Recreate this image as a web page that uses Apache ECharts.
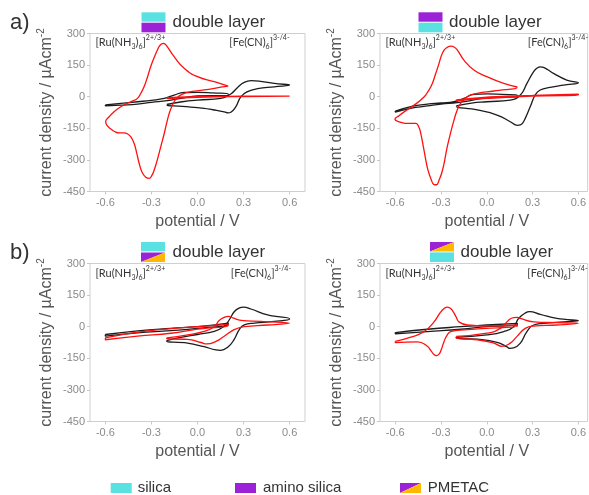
<!DOCTYPE html>
<html><head><meta charset="utf-8">
<script src="https://cdn.jsdelivr.net/npm/echarts@6/dist/echarts.min.js"></script>
<style>html,body{margin:0;padding:0;background:#fff}#c{width:589px;height:495px}</style>
</head><body><div id="c"></div>
<script>
// ---- tick labels ----
const xTickValues = [-0.6, -0.3, 0.0, 0.3, 0.6];
const yMin = -450, yMax = 300, yStep = 150;

// ---- panel a, left (silica / amino silica) ----
const a1RuBlack = [[-0.6,-39],[-0.5,-32],[-0.39,-24],[-0.3,-17],[-0.217,-8],[-0.152,8],[-0.087,20],[0,21],[0.1,18],[0.2,13],[0.2,5],[0.1,5],[0,4],[-0.109,-8],[-0.196,-19],[-0.3,-27],[-0.39,-35],[-0.5,-40],[-0.6,-44],[-0.6,-39]];
const a1FeBlack = [[-0.2,-37],[-0.1,-24],[0,-16],[0.152,-8],[0.217,13],[0.261,44],[0.304,68],[0.35,76],[0.41,73],[0.5,63],[0.6,55],[0.5,47],[0.391,38],[0.326,24],[0.283,0],[0.25,-47],[0.217,-74],[0.2,-77],[0.174,-72],[0.1,-62],[0.043,-55],[-0.1,-46],[-0.2,-40],[-0.2,-37]];
const a1RuRed = [[0.2,50],[0.109,71],[0,95],[-0.087,135],[-0.152,190],[-0.196,237],[-0.21,249],[-0.222,253],[-0.235,250],[-0.25,238],[-0.261,222],[-0.28,190],[-0.305,142],[-0.325,95],[-0.348,47],[-0.37,15],[-0.391,-8],[-0.42,-20],[-0.457,-31],[-0.5,-48],[-0.543,-71],[-0.575,-95],[-0.598,-119],[-0.585,-140],[-0.566,-152],[-0.54,-165],[-0.511,-172],[-0.48,-172],[-0.457,-176],[-0.435,-190],[-0.413,-221],[-0.395,-270],[-0.38,-316],[-0.36,-360],[-0.337,-382],[-0.315,-388],[-0.298,-375],[-0.282,-348],[-0.26,-295],[-0.239,-237],[-0.215,-170],[-0.196,-111],[-0.175,-60],[-0.152,-24],[-0.13,-3],[-0.109,8],[-0.065,21],[0.044,32],[0.152,45],[0.2,50]];
const a1FeRed = [[-0.2,-9],[0,-3],[0.3,1],[0.6,3],[0.3,3],[0,0],[-0.2,-6],[-0.2,-9]];

// ---- panel a, right (amino silica / silica) ----
const a2RuBlack = [[-0.6,-68],[-0.498,-47],[-0.39,-35],[-0.3,-30],[-0.215,-24],[-0.15,-8],[-0.085,11],[0,13],[0.1,11],[0.2,8],[0.2,0],[0.1,-2],[0,-5],[-0.107,-19],[-0.193,-28],[-0.3,-35],[-0.39,-44],[-0.5,-55],[-0.6,-73],[-0.6,-68]];
const a2FeBlack = [[-0.2,-44],[-0.1,-30],[0,-24],[0.154,-16],[0.22,8],[0.263,63],[0.307,119],[0.33,136],[0.35,142],[0.372,139],[0.4,128],[0.437,111],[0.524,79],[0.6,66],[0.502,55],[0.415,44],[0.35,32],[0.317,8],[0.285,-47],[0.252,-103],[0.235,-125],[0.22,-134],[0.2,-136],[0.187,-134],[0.154,-119],[0.067,-87],[-0.063,-63],[-0.2,-46],[-0.2,-44]];
const a2RuRed = [[0.2,46],[0.111,63],[0,95],[-0.085,127],[-0.15,174],[-0.193,221],[-0.215,236],[-0.237,240],[-0.26,234],[-0.28,221],[-0.3,190],[-0.313,158],[-0.335,110],[-0.357,63],[-0.385,25],[-0.41,0],[-0.476,-40],[-0.54,-71],[-0.575,-90],[-0.602,-107],[-0.574,-119],[-0.509,-127],[-0.465,-127],[-0.445,-145],[-0.433,-174],[-0.415,-240],[-0.4,-300],[-0.385,-350],[-0.367,-388],[-0.346,-417],[-0.33,-418],[-0.315,-400],[-0.29,-348],[-0.259,-237],[-0.235,-165],[-0.215,-111],[-0.195,-65],[-0.172,-32],[-0.128,0],[-0.063,16],[0.046,27],[0.2,44],[0.2,46]];
const a2FeRed = [[-0.2,-15],[0,-2],[0.3,6],[0.6,12],[0.6,8],[0.3,3],[0,-8],[-0.2,-20],[-0.2,-15]];

// ---- panel b, left (silica / PMETAC) ----
const b1RuBlack = [[-0.6,-37],[-0.39,-20],[-0.174,-8],[0,0],[0.2,17],[0.2,12],[0,-8],[-0.174,-19],[-0.39,-29],[-0.6,-45],[-0.6,-37]];
const b1RuRed = [[-0.6,-53],[-0.39,-26],[-0.174,-9],[0,0],[0.152,8],[0.2,11],[0.2,6],[0,-12],[-0.174,-31],[-0.39,-45],[-0.6,-62],[-0.6,-53]];
const b1FeBlack = [[-0.2,-66],[-0.1,-50],[0,-37],[0.109,-22],[0.174,2],[0.207,33],[0.239,71],[0.27,88],[0.3,93],[0.348,84],[0.457,56],[0.6,37],[0.5,25],[0.37,17],[0.304,9],[0.272,-14],[0.239,-60],[0.2,-95],[0.15,-112],[0.12,-110],[0.043,-95],[-0.065,-78],[-0.2,-70],[-0.2,-66]];
const b1FeRed = [[-0.2,-53],[-0.065,-39],[0.043,-22],[0.109,0],[0.141,29],[0.174,44],[0.2,49],[0.23,42],[0.283,30],[0.413,25],[0.6,17],[0.457,8],[0.304,0],[0.239,-14],[0.174,-45],[0.12,-70],[0.06,-82],[0.022,-75],[-0.065,-60],[-0.2,-57],[-0.2,-53]];

// ---- panel b, right (PMETAC / silica) ----
const b2RuBlack = [[-0.6,-28],[-0.39,-12],[-0.17,0],[0,8],[0.2,16],[0.2,10],[0,0],[-0.17,-12],[-0.39,-23],[-0.6,-34],[-0.6,-28]];
const b2RuRed = [[-0.6,-70],[-0.498,-50],[-0.41,-23],[-0.346,23],[-0.302,70],[-0.28,86],[-0.259,93],[-0.242,89],[-0.226,78],[-0.2,45],[-0.183,23],[-0.128,8],[0,3],[0.2,8],[0.2,3],[0,-8],[-0.172,-16],[-0.237,-23],[-0.26,-40],[-0.28,-70],[-0.3,-112],[-0.313,-130],[-0.33,-137],[-0.346,-132],[-0.365,-115],[-0.39,-93],[-0.454,-72],[-0.6,-76],[-0.6,-70]];
const b2FeBlack = [[-0.2,-50],[0,-39],[0.111,-23],[0.176,0],[0.209,40],[0.252,65],[0.28,72],[0.35,59],[0.459,39],[0.6,28],[0.502,23],[0.372,16],[0.307,8],[0.263,-23],[0.22,-78],[0.176,-101],[0.15,-103],[0.133,-96],[0.067,-74],[-0.063,-59],[-0.2,-54],[-0.2,-50]];
const b2FeRed = [[-0.2,-46],[0,-31],[0.089,-8],[0.143,31],[0.176,43],[0.2,44],[0.22,39],[0.307,23],[0.459,19],[0.6,16],[0.459,8],[0.307,3],[0.252,-8],[0.198,-46],[0.154,-78],[0.1,-93],[0.046,-78],[-0.063,-62],[-0.2,-54],[-0.2,-46]];

const panelLetters = ['a)', 'b)'];
const legendNames = ['silica', 'amino silica', 'PMETAC'];
const panelLegendText = 'double layer';

const CYAN = '#5AE2E2', PURPLE = '#9B22D6', ORANGE = '#FFB800';
const BLACK = '#1c1c1c', RED = '#ff1010';
const TICKFONT = 'Liberation Sans, Arial, sans-serif';

const chart = echarts.init(document.getElementById('c'), null, {renderer: 'canvas'});

// right-hand panels are cut by the picture edge: same scale, shorter visible range
const X_MIN = -0.7, X_MAX_L = 0.7, X_MAX_R = -0.7 + 209 / (215 / 1.4);
const grids = [
  {left: 90, top: 33.5, width: 215, height: 158},
  {left: 380, top: 33.5, width: 209, height: 158},
  {left: 90, top: 263.5, width: 215, height: 158},
  {left: 380, top: 263.5, width: 209, height: 158}
];
const xMaxes = [X_MAX_L, X_MAX_R, X_MAX_L, X_MAX_R];

const panelSeries = [
  [[a1RuBlack, BLACK], [a1FeBlack, BLACK], [a1FeRed, RED], [a1RuRed, RED]],
  [[a2RuBlack, BLACK], [a2FeBlack, BLACK], [a2FeRed, RED], [a2RuRed, RED]],
  [[b1RuBlack, BLACK], [b1FeBlack, BLACK], [b1RuRed, RED], [b1FeRed, RED]],
  [[b2RuBlack, BLACK], [b2FeBlack, BLACK], [b2FeRed, RED], [b2RuRed, RED]]
];

const xAxes = grids.map((g, i) => ({
  type: 'value', gridIndex: i, min: X_MIN, max: xMaxes[i],
  axisLine: {show: false, onZero: false},
  axisTick: {show: true, customValues: xTickValues, length: 3, lineStyle: {color: '#c8c8c8'}},
  axisLabel: {customValues: xTickValues, formatter: v => v.toFixed(1), color: '#8a8a8a', fontSize: 11, fontFamily: TICKFONT, margin: 6},
  splitLine: {show: false},
  name: 'potential / V', nameLocation: 'middle', nameGap: 22,
  nameTextStyle: {fontSize: 16, color: '#555', fontFamily: TICKFONT}
}));
// keep the x-axis title centred on the full (uncut) frame for the right panels
xAxes[1].nameTextStyle.padding = [0, 0, 0, 6];
xAxes[3].nameTextStyle.padding = [0, 0, 0, 6];

const yAxes = grids.map((g, i) => ({
  type: 'value', gridIndex: i, min: yMin, max: yMax, interval: yStep,
  axisLine: {show: false, onZero: false},
  axisTick: {show: true, length: 3, lineStyle: {color: '#c8c8c8'}},
  axisLabel: {color: '#8a8a8a', fontSize: 11, fontFamily: TICKFONT, margin: 5},
  splitLine: {show: false},
  name: '{a|current density / µAcm}{b|-2}', nameLocation: 'middle', nameGap: 32, nameRotate: 90,
  nameTextStyle: {
    rich: {
      a: {fontSize: 16, color: '#555', fontFamily: TICKFONT, lineHeight: 22},
      b: {fontSize: 10, color: '#555', fontFamily: TICKFONT, lineHeight: 10, verticalAlign: 'top'}
    }
  }
}));

const series = [];
panelSeries.forEach((list, gi) => {
  list.forEach(([data, color]) => {
    series.push({
      type: 'line', xAxisIndex: gi, yAxisIndex: gi, data: data,
      showSymbol: false, smooth: 0.5, silent: true,
      lineStyle: {width: 1.3, color: color}
    });
  });
});

// ---- graphics: annotations and legends ----
const graphics = [];
const annoRich = {
  m: {fontSize: 11, fill: '#333', fontFamily: 'Lato, sans-serif', lineHeight: 16},
  s: {fontSize: 7, fill: '#333', fontFamily: 'Lato, sans-serif', lineHeight: 8, verticalAlign: 'bottom'},
  p: {fontSize: 7, fill: '#333', fontFamily: 'Lato, sans-serif', lineHeight: 8, verticalAlign: 'top'}
};
const ruText = '{m|[Ru(NH}{s|3}{m|)}{s|6}{m|]}{p|2+/3+}';
const feText = '{m|[Fe(CN)}{s|6}{m|]}{p|3-/4-}';
const annoPos = [
  {ru: [95.5, 42.7], fe: [289.5, 42.7]},
  {ru: [385.5, 42.7], fe: [588, 42.7]},
  {ru: [95.5, 273], fe: [291, 273]},
  {ru: [385.5, 273], fe: [587.5, 273]}
];
annoPos.forEach(p => {
  graphics.push({type: 'text', x: p.ru[0], y: p.ru[1], silent: true,
    style: {text: ruText, rich: annoRich, align: 'left', verticalAlign: 'middle'}});
  graphics.push({type: 'text', x: p.fe[0], y: p.fe[1], silent: true,
    style: {text: feText, rich: annoRich, align: 'right', verticalAlign: 'middle'}});
});

function swatchPart(kind, x, y, w, h) {
  if (kind === 'c' || kind === 'p') {
    return [{type: 'rect', silent: true, shape: {x: x, y: y, width: w, height: h}, style: {fill: kind === 'c' ? CYAN : PURPLE}}];
  }
  return [
    {type: 'polygon', silent: true, shape: {points: [[x, y], [x + w, y], [x, y + h]]}, style: {fill: PURPLE}},
    {type: 'polygon', silent: true, shape: {points: [[x + w, y], [x + w, y + h], [x, y + h]]}, style: {fill: ORANGE}}
  ];
}
const panelLegends = [
  {x: 141.5, y: 12.3, top: 'c', bottom: 'p', tx: 172.5, ty: 22.5},
  {x: 418.5, y: 12.3, top: 'p', bottom: 'c', tx: 449, ty: 22.5},
  {x: 141, y: 242, top: 'c', bottom: 'pm', tx: 172.5, ty: 252},
  {x: 430, y: 242, top: 'pm', bottom: 'c', tx: 460.5, ty: 252}
];
panelLegends.forEach(l => {
  swatchPart(l.top, l.x, l.y, 24, 9.4).forEach(g => graphics.push(g));
  swatchPart(l.bottom, l.x, l.y + 10.4, 24, 9.6).forEach(g => graphics.push(g));
  graphics.push({type: 'text', x: l.tx, y: l.ty, silent: true,
    style: {text: panelLegendText, fontSize: 17, fill: '#333', fontFamily: TICKFONT, align: 'left', verticalAlign: 'middle'}});
});

// panel letters
[[10, 23], [10, 253]].forEach((p, i) => {
  graphics.push({type: 'text', x: p[0], y: p[1], silent: true,
    style: {text: panelLetters[i], fontSize: 22, fill: '#333', fontFamily: TICKFONT, align: 'left', verticalAlign: 'middle'}});
});

// bottom legend
const bottomLegend = [
  {kind: 'c', x: 110.7, tx: 137.7},
  {kind: 'p', x: 235, tx: 263},
  {kind: 'pm', x: 400, tx: 427.7}
];
bottomLegend.forEach((b, i) => {
  swatchPart(b.kind, b.x, 483, 21, 10).forEach(g => graphics.push(g));
  graphics.push({type: 'text', x: b.tx, y: 488, silent: true,
    style: {text: legendNames[i], fontSize: 15, fill: '#333', fontFamily: TICKFONT, align: 'left', verticalAlign: 'middle'}});
});

chart.setOption({
  animation: false,
  backgroundColor: '#fff',
  grid: grids.map(g => Object.assign({show: true, borderColor: '#cfcfcf', borderWidth: 1, containLabel: false}, g)),
  xAxis: xAxes,
  yAxis: yAxes,
  series: series,
  graphic: {elements: graphics}
});
</script>
</body></html>
